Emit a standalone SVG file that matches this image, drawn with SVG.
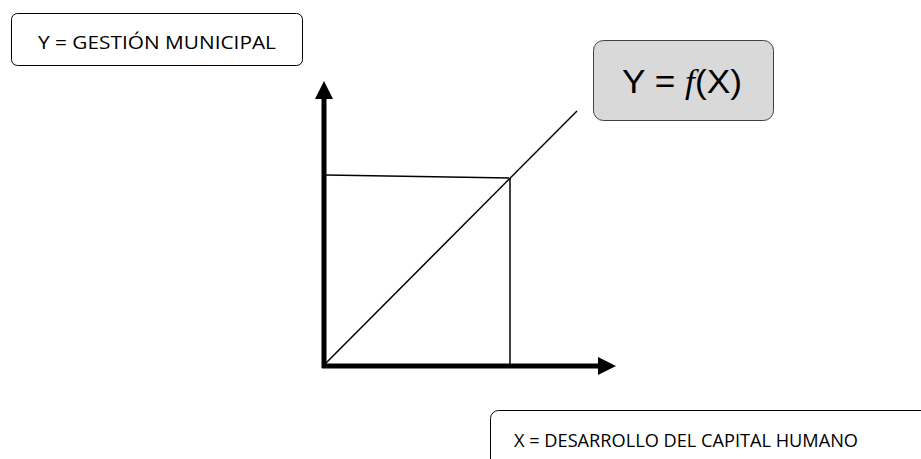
<svg xmlns="http://www.w3.org/2000/svg" width="921" height="459" viewBox="0 0 921 459">
<style>
.box{fill:#fff;stroke:#000;stroke-width:1}
.lbl{font-family:"Open Sans","Liberation Sans",sans-serif;font-size:19px;fill:#000}
.axis{stroke:#000;stroke-width:5;fill:none}
.thin{stroke:#000;stroke-width:1.5;fill:none}
</style>
<defs>
<marker id="ah" viewBox="0 0 10 10" refX="0" refY="5" markerWidth="3.6" markerHeight="3.6" orient="auto" markerUnits="strokeWidth">
<path d="M0,0 L10,5 L0,10 z" fill="#000"/>
</marker>
</defs>
<g id="connectors">
<line class="thin" x1="324" y1="365" x2="577" y2="111"/>
<line class="thin" x1="326" y1="175" x2="510" y2="178"/>
<line class="thin" x1="510" y1="178" x2="510" y2="364"/>
<line class="axis" x1="324" y1="368" x2="324" y2="99" marker-end="url(#ah)"/>
<line class="axis" x1="322" y1="366" x2="598" y2="366" marker-end="url(#ah)"/>
</g>
<g id="node-y">
<rect class="box" x="11.5" y="13.5" width="291" height="52" rx="6"/>
<text class="lbl" x="38" y="49" textLength="238" lengthAdjust="spacingAndGlyphs">Y = GESTIÓN MUNICIPAL</text>
</g>
<g id="node-f">
<rect x="593.5" y="40.5" width="180" height="80" rx="10" fill="#d9d9d9" stroke="#404040" stroke-width="1"/>
<text x="622" y="93" font-family="'Liberation Sans',Arial,sans-serif" font-size="34" fill="#000" textLength="120" lengthAdjust="spacingAndGlyphs">Y = <tspan font-style="italic" font-family="'Liberation Serif',serif">f</tspan>(X)</text>
</g>
<g id="node-x">
<rect class="box" x="490.5" y="410.5" width="460" height="80" rx="8"/>
<text class="lbl" x="514" y="447" textLength="344" lengthAdjust="spacingAndGlyphs">X = DESARROLLO DEL CAPITAL HUMANO</text>
</g>
</svg>
